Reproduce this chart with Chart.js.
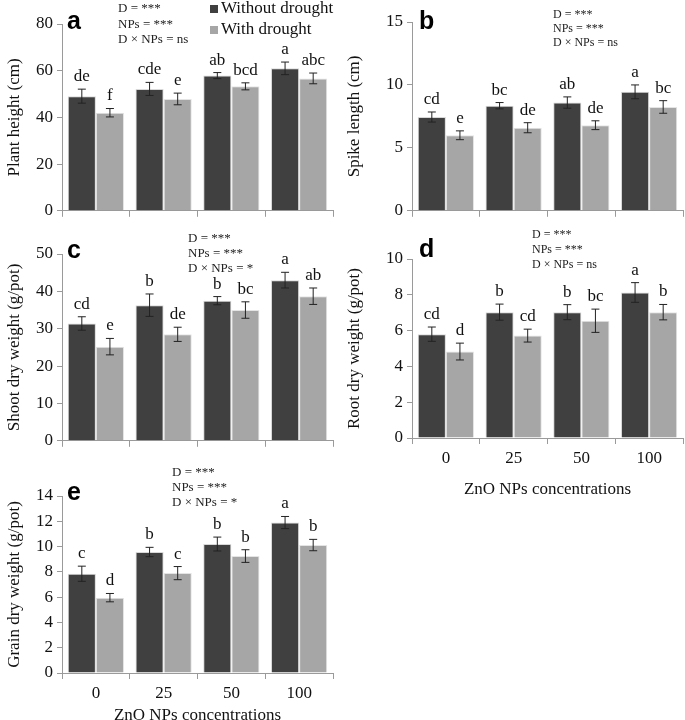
<!DOCTYPE html>
<html>
<head>
<meta charset="utf-8">
<script src="https://cdn.jsdelivr.net/npm/chart.js@4.4.0/dist/chart.umd.min.js"></script>
<style>
  body { margin: 0; background: #fff; }
  #wrap { position: relative; width: 685px; height: 720px; }
  canvas { position: absolute; }
</style>
</head>
<body>
<div id="wrap">
  <canvas id="ca" style="left:0;top:0" width="340" height="225"></canvas>
  <canvas id="cb" style="left:340px;top:0" width="345" height="225"></canvas>
  <canvas id="cc" style="left:0;top:225px" width="340" height="230"></canvas>
  <canvas id="cd" style="left:340px;top:225px" width="345" height="275"></canvas>
  <canvas id="ce" style="left:0;top:455px" width="340" height="265"></canvas>
</div>
<script>
// ZnO NPs concentrations
const concentrations = ['0', '25', '50', '100'];
const seriesNames = ['Without drought', 'With drought'];

// a: plant height
const heightWithout = [49.1, 52.2, 57.9, 61.0];
const heightWith = [42.0, 47.9, 53.3, 56.7];
const heightErrWithout = [3.0, 2.8, 1.3, 2.7];
const heightErrWith = [1.8, 2.5, 1.5, 2.3];
const heightLetters = [['de', 'cde', 'ab', 'a'], ['f', 'e', 'bcd', 'abc']];

// b: spike length
const spikeWithout = [7.45, 8.35, 8.6, 9.45];
const spikeWith = [6.0, 6.6, 6.8, 8.25];
const spikeErrWithout = [0.4, 0.25, 0.45, 0.55];
const spikeErrWith = [0.35, 0.4, 0.35, 0.5];
const spikeLetters = [['cd', 'bc', 'ab', 'a'], ['e', 'de', 'de', 'bc']];

// c: shoot dry weight
const shootWithout = [31.4, 36.3, 37.5, 43.0];
const shootWith = [25.2, 28.5, 35.0, 38.7];
const shootErrWithout = [1.8, 3.0, 1.1, 2.1];
const shootErrWith = [2.2, 1.9, 2.2, 2.2];
const shootLetters = [['cd', 'b', 'b', 'a'], ['e', 'de', 'bc', 'ab']];

// d: root dry weight
const rootWithout = [5.8, 7.03, 7.03, 8.13];
const rootWith = [4.83, 5.72, 6.55, 7.03];
const rootErrWithout = [0.4, 0.45, 0.42, 0.55];
const rootErrWith = [0.47, 0.36, 0.65, 0.43];
const rootLetters = [['cd', 'b', 'b', 'a'], ['d', 'cd', 'bc', 'b']];

// e: grain dry weight
const grainWithout = [7.85, 9.57, 10.2, 11.9];
const grainWith = [5.96, 7.9, 9.25, 10.12];
const grainErrWithout = [0.6, 0.37, 0.55, 0.48];
const grainErrWith = [0.33, 0.52, 0.5, 0.45];
const grainLetters = [['c', 'b', 'b', 'a'], ['d', 'c', 'b', 'b']];

const statsA = ['D = ***', 'NPs = ***', 'D \u00d7 NPs = ns'];
const statsB = ['D = ***', 'NPs = ***', 'D \u00d7 NPs = ns'];
const statsC = ['D = ***', 'NPs = ***', 'D \u00d7 NPs = *'];
const statsD = ['D = ***', 'NPs = ***', 'D \u00d7 NPs = ns'];
const statsE = ['D = ***', 'NPs = ***', 'D \u00d7 NPs = *'];

const DARK = '#404040';
const LIGHT = '#a6a6a6';
const AXIS = '#9a9a9a';
const SERIF = '"Liberation Serif", "Times New Roman", serif';

// error bars + letters + panel label + stats text
const annotate = {
    id: 'annotate',
    afterDatasetsDraw(chart, args, opts) {
        const ctx = chart.ctx;
        const y = chart.scales.y;
        ctx.save();
        chart.data.datasets.forEach((ds, i) => {
            const meta = chart.getDatasetMeta(i);
            meta.data.forEach((bar, j) => {
                const v = ds.data[j], e = ds.errors[j];
                const yt = y.getPixelForValue(v + e), yb = y.getPixelForValue(v - e);
                ctx.strokeStyle = '#222';
                ctx.lineWidth = 1;
                ctx.beginPath();
                ctx.moveTo(bar.x, yt); ctx.lineTo(bar.x, yb);
                ctx.moveTo(bar.x - 4, yt); ctx.lineTo(bar.x + 4, yt);
                ctx.moveTo(bar.x - 4, yb); ctx.lineTo(bar.x + 4, yb);
                ctx.stroke();
                ctx.fillStyle = '#111';
                ctx.font = '17px ' + SERIF;
                ctx.textAlign = 'center';
                ctx.textBaseline = 'bottom';
                ctx.fillText(ds.letters[j], bar.x, yt - 4);
            });
        });
        // panel letter
        ctx.fillStyle = '#000';
        ctx.font = 'bold 25px "Liberation Sans", Arial, sans-serif';
        ctx.textAlign = 'left';
        ctx.textBaseline = 'alphabetic';
        ctx.fillText(opts.panel, opts.panelX, opts.panelY);
        // stats
        ctx.font = opts.statsSize + 'px ' + SERIF;
        ctx.fillStyle = '#222';
        ctx.textBaseline = 'middle';
        opts.stats.forEach((s, k) => ctx.fillText(s, opts.statsX, opts.statsY + k * opts.statsGap));
        // legend
        if (opts.legend) {
            ctx.font = '17px ' + SERIF;
            ctx.fillStyle = DARK;
            ctx.fillRect(opts.legend.x, opts.legend.y - 4, 8, 8);
            ctx.fillStyle = LIGHT;
            ctx.fillRect(opts.legend.x, opts.legend.y + 21 - 4, 8, 8);
            ctx.fillStyle = '#111';
            ctx.fillText(seriesNames[0], opts.legend.x + 11, opts.legend.y);
            ctx.fillText(seriesNames[1], opts.legend.x + 11, opts.legend.y + 21);
        }
        ctx.restore();
    }
};

function makePanel(id, cfg) {
    const ctx = document.getElementById(id).getContext('2d');
    return new Chart(ctx, {
        type: 'bar',
        data: {
            labels: concentrations,
            datasets: [{
                label: seriesNames[0],
                data: cfg.without,
                errors: cfg.errWithout,
                letters: cfg.letters[0],
                backgroundColor: DARK,
                borderColor: '#d8d8d8',
                borderWidth: 1
            }, {
                label: seriesNames[1],
                data: cfg.withD,
                errors: cfg.errWith,
                letters: cfg.letters[1],
                backgroundColor: LIGHT,
                borderColor: '#e4e4e4',
                borderWidth: 1
            }]
        },
        options: {
            responsive: false,
            animation: false,
            categoryPercentage: 0.83,
            barPercentage: 1.0,
            layout: { padding: { left: 0, right: cfg.padRight, top: cfg.areaTop, bottom: 0 } },
            plugins: {
                legend: { display: false },
                tooltip: { enabled: false },
                annotate: {
                    panel: cfg.panel, panelX: cfg.panelX, panelY: cfg.panelY,
                    stats: cfg.stats, statsX: cfg.statsX, statsY: cfg.statsY,
                    statsGap: cfg.statsGap, statsSize: cfg.statsSize,
                    legend: cfg.legend
                }
            },
            scales: {
                x: {
                    grid: { display: true, drawOnChartArea: false, drawTicks: true, tickLength: 6, offset: true, color: AXIS },
                    border: { color: AXIS },
                    ticks: {
                        display: cfg.xLabels, color: '#111', padding: 4,
                        font: { family: SERIF, size: 17 }, maxRotation: 0
                    },
                    title: {
                        display: cfg.xLabels, text: 'ZnO NPs concentrations', color: '#111',
                        font: { family: SERIF, size: 17, lineHeight: 1.0 },
                        padding: { top: 0, bottom: cfg.xTitlePad }
                    },
                    afterFit: s => { s.height = cfg.xHeight; }
                },
                y: {
                    min: 0, max: cfg.max,
                    grid: { display: true, drawOnChartArea: false, drawTicks: true, tickLength: 5, color: AXIS },
                    border: { color: AXIS },
                    ticks: { stepSize: cfg.step, color: '#111', padding: 4, font: { family: SERIF, size: 17 } },
                    title: {
                        display: true, text: cfg.yTitle, color: '#111',
                        font: { family: SERIF, size: 17 }, padding: { top: 4, bottom: 0 }
                    },
                    afterFit: s => { s.width = cfg.yWidth; }
                }
            }
        },
        plugins: [annotate]
    });
}

makePanel('ca', {
    without: heightWithout, withD: heightWith, errWithout: heightErrWithout, errWith: heightErrWith,
    letters: heightLetters, max: 80, step: 20, yTitle: 'Plant height (cm)',
    areaTop: 24, padRight: 7, yWidth: 62, xHeight: 13, xLabels: false, xTitlePad: 0,
    panel: 'a', panelX: 67, panelY: 29,
    stats: statsA, statsX: 118, statsY: 9, statsGap: 15.5, statsSize: 13,
    legend: { x: 210, y: 9 }
});
makePanel('cb', {
    without: spikeWithout, withD: spikeWith, errWithout: spikeErrWithout, errWith: spikeErrWith,
    letters: spikeLetters, max: 15, step: 5, yTitle: 'Spike length (cm)',
    areaTop: 22, padRight: 2, yWidth: 72, xHeight: 13, xLabels: false, xTitlePad: 0,
    panel: 'b', panelX: 79, panelY: 29,
    stats: statsB, statsX: 213, statsY: 15, statsGap: 14, statsSize: 12
});
makePanel('cc', {
    without: shootWithout, withD: shootWith, errWithout: shootErrWithout, errWith: shootErrWith,
    letters: shootLetters, max: 50, step: 10, yTitle: 'Shoot dry weight (g/pot)',
    areaTop: 29, padRight: 7, yWidth: 62, xHeight: 12, xLabels: false, xTitlePad: 0,
    panel: 'c', panelX: 67, panelY: 33,
    stats: statsC, statsX: 188, statsY: 14, statsGap: 15, statsSize: 13
});
makePanel('cd', {
    without: rootWithout, withD: rootWith, errWithout: rootErrWithout, errWith: rootErrWith,
    letters: rootLetters, max: 10, step: 2, yTitle: 'Root dry weight (g/pot)',
    areaTop: 34, padRight: 2, yWidth: 72, xHeight: 62, xLabels: true, xTitlePad: 2,
    panel: 'd', panelX: 79, panelY: 32,
    stats: statsD, statsX: 192, statsY: 10, statsGap: 15, statsSize: 12
});
makePanel('ce', {
    without: grainWithout, withD: grainWith, errWithout: grainErrWithout, errWith: grainErrWith,
    letters: grainLetters, max: 14, step: 2, yTitle: 'Grain dry weight (g/pot)',
    areaTop: 41, padRight: 7, yWidth: 62, xHeight: 47, xLabels: true, xTitlePad: -4,
    panel: 'e', panelX: 67, panelY: 45,
    stats: statsE, statsX: 172, statsY: 18, statsGap: 15, statsSize: 13
});
</script>
</body>
</html>
